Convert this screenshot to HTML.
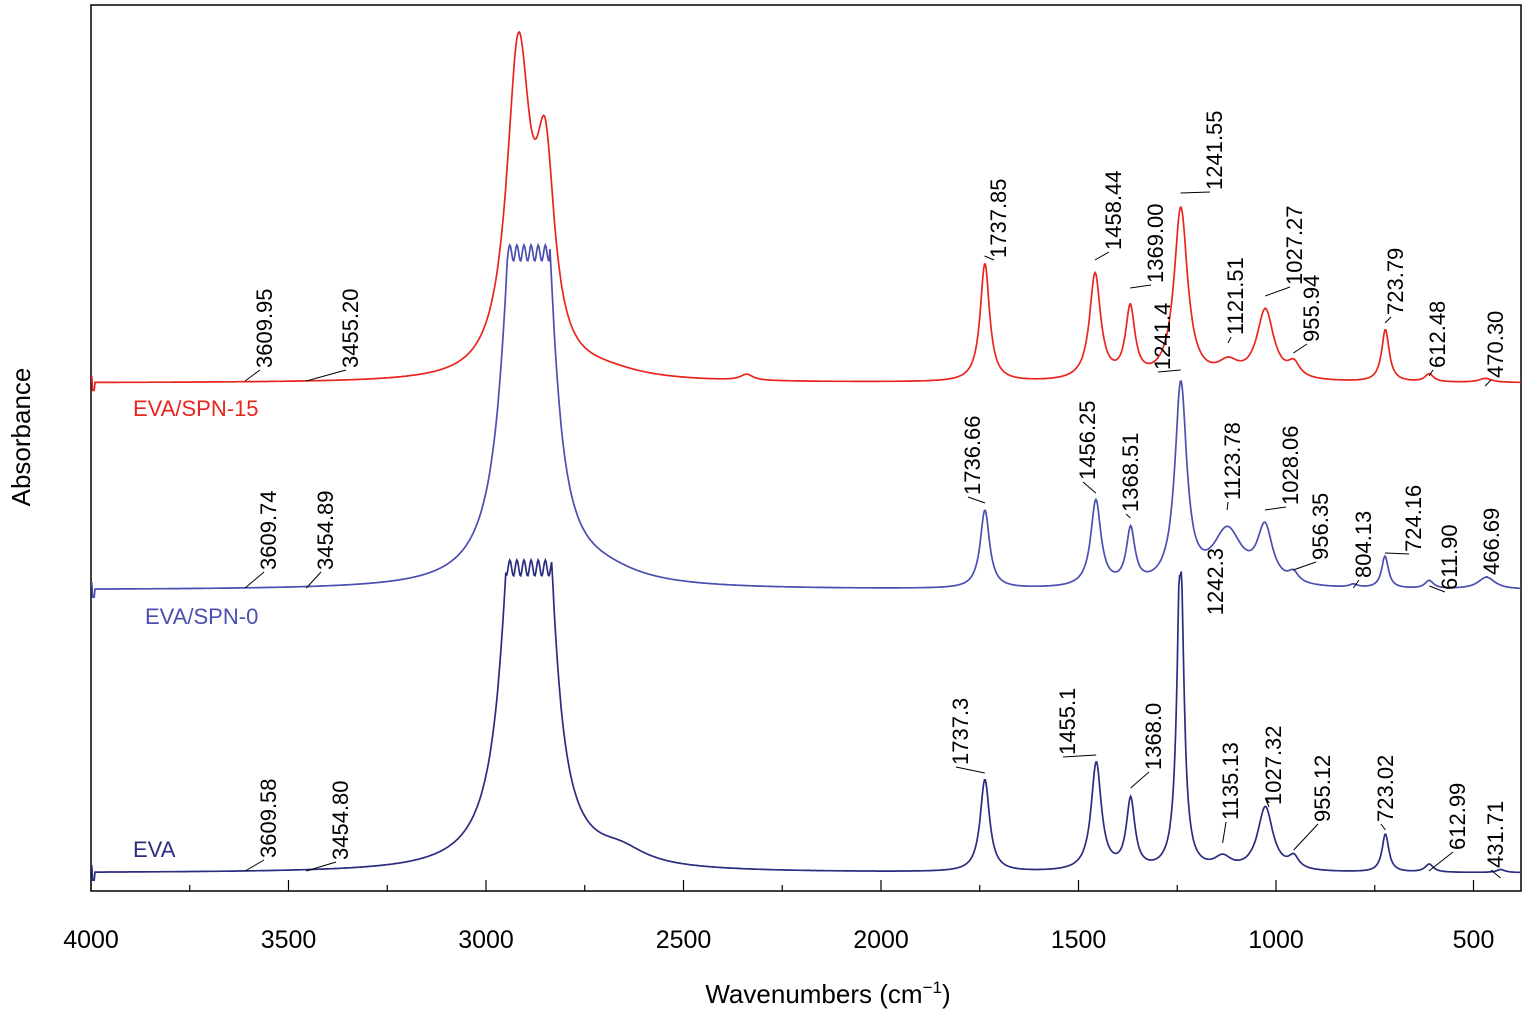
<!DOCTYPE html>
<html><head><meta charset="utf-8"><style>
body{margin:0;background:#fff}
svg text{font-family:"Liberation Sans",Arial,sans-serif}
</style></head><body>
<svg id="s" width="1529" height="1015" xmlns="http://www.w3.org/2000/svg">
<rect x="91" y="5" width="1430" height="886" fill="none" stroke="#000" stroke-width="1.5"/>
<g id="ax"></g>
<g id="sp"></g>
<g id="lb" font-size="22"></g>
<text x="30" y="437" font-size="26" transform="rotate(-90 30 437)" text-anchor="middle">Absorbance</text>
<text x="828" y="1003" font-size="26" text-anchor="middle">Wavenumbers (cm<tspan dy="-10" font-size="17">−1</tspan><tspan dy="10">)</tspan></text>
<text x="133" y="416" font-size="22" fill="#e8261e">EVA/SPN-15</text>
<text x="145" y="624" font-size="22" fill="#4a4fb0">EVA/SPN-0</text>
<text x="133" y="857" font-size="22" fill="#2b2d7e">EVA</text>
</svg>
<script>
const X=w=>91+(4000-w)*0.395;
const NS="http://www.w3.org/2000/svg";
function el(p,t,a,txt){const e=document.createElementNS(NS,t);for(const k in a)e.setAttribute(k,a[k]);if(txt)e.textContent=txt;document.getElementById(p).appendChild(e);return e;}
for(let w=4000;w>=380;w-=250){const maj=w%500==0;el("ax","line",{x1:X(w),x2:X(w),y1:891,y2:maj?880:885,stroke:"#000","stroke-width":1.2});
 if(maj)el("ax","text",{x:X(w),y:948,"font-size":25,"text-anchor":"middle"},String(w));}
function spec(base,peaks,clip,color){
 let d="";
 for(let w=4000;w>=380;w-=2){
  let h=0;for(const [c,a,g] of peaks)h+=a/(1+((w-c)/(g*1.3))**2);
  let y=base-h; if(clip&&y<clip)y=clip+Math.sin(w*0.35)*8+8;
  if(w>3990)y+= (w>3996?-6:8);
  d+=(d?"L":"M")+X(w).toFixed(1)+" "+y.toFixed(1);
 }
 el("sp","path",{d:d,fill:"none",stroke:color,"stroke-width":1.7});
}
spec(383,[[2918,320,28],[2850,190,22],[2700,8,90],[2340,6,15],[1737,118,11],[1458,106,13],[1369,70,11],[1241,172,16],[1121,15,25],[1027,70,20],[955,14,14],[723,52,9],[612,8,10],[470,4,15]],null,"#e8261e");
spec(590,[[2920,420,30],[2855,330,25],[2700,10,90],[1737,78,11],[1456,86,12],[1368,55,10],[1241,200,14],[1123,55,35],[1028,55,18],[956,10,12],[804,3,10],[724,32,8],[612,8,10],[467,12,20]],245,"#4a4fb0");
spec(873,[[2920,420,30],[2855,340,25],[2660,14,60],[1737,92,11],[1455,108,12],[1368,70,10],[1242,325,8],[1135,12,20],[1027,64,18],[955,12,12],[723,38,8],[612,8,10],[431,3,10]],560,"#2b2d7e");
const L=[
["3609.95",264,368,3609.95,383],["3455.20",350,368,3455.2,383],["1737.85",998,258,1737.85,258],["1458.44",1113,250,1458.44,262],["1369.00",1155,283,1369,290],["1241.55",1214,190,1241.55,195],["1121.51",1235,335,1121.51,345],["1027.27",1294,285,1027.27,298],["955.94",1311,342,955.94,355],["723.79",1395,315,723.79,325],["612.48",1437,368,612.48,378],["470.30",1495,378,470.3,388],
["3609.74",268,570,3609.74,590],["3454.89",325,570,3454.89,590],["1736.66",972,495,1736.66,505],["1456.25",1087,480,1456.25,495],["1368.51",1130,512,1368.51,520],["1241.4",1162,370,1241.4,372],["1123.78",1232,500,1123.78,512],["1028.06",1290,505,1028.06,512],["956.35",1320,560,956.35,572],["804.13",1363,578,804.13,590],["724.16",1413,552,724.16,555],["611.90",1449,590,611.9,588],["466.69",1491,575,466.69,578],
["3609.58",268,858,3609.58,873],["3454.80",340,860,3454.8,873],["1737.3",960,765,1737.3,775],["1455.1",1067,755,1455.1,757],["1368.0",1153,770,1368,790],["1135.13",1230,820,1135.13,845],["1027.32",1273,805,1027.32,800],["955.12",1322,822,955.12,852],["723.02",1385,822,723.02,832],["612.99",1457,850,612.99,873],["431.71",1495,868,431.71,880]];
for(const [t,cx,by,pw,py] of L){
 const ax=cx+8;
 el("lb","text",{x:ax,y:by,transform:`rotate(-90 ${ax} ${by})`},t);
 el("lb","line",{x1:X(pw),y1:py-2,x2:cx-4,y2:by+2,stroke:"#000","stroke-width":1});
}
el("lb","text",{x:1223,y:548,transform:"rotate(-90 1223 548)","text-anchor":"end"},"1242.3");
</script>
</body></html>
